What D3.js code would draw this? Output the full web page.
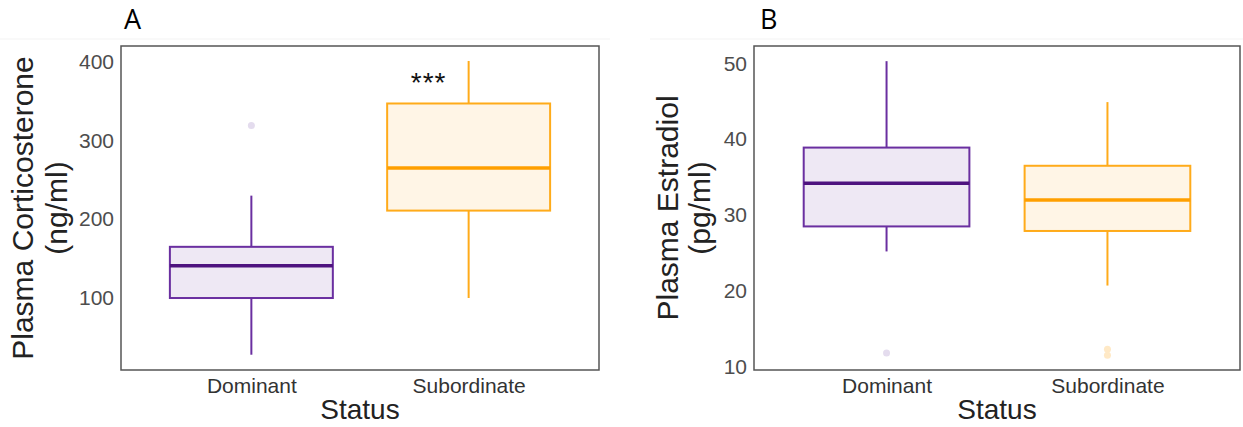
<!DOCTYPE html>
<html>
<head>
<meta charset="utf-8">
<script src="https://cdn.jsdelivr.net/npm/d3@7"></script>
<style>
  html, body { margin: 0; padding: 0; background: #fff; }
  svg { display: block; }
</style>
</head>
<body>
<svg id="chart" width="1243" height="427"></svg>
<script>
// ---- data ----
const categories = ["Dominant", "Subordinate"];
// [lowerWhisker, q1, median, q3, upperWhisker]
const corticoDominant = [28, 100, 141, 165, 230];
const corticoSubordinate = [100, 211, 265, 347, 401];
const corticoOutliersDominant = [319];
const corticoOutliersSubordinate = [];
const estradiolDominant = [25.2, 28.5, 34.2, 38.9, 50.3];
const estradiolSubordinate = [20.7, 27.9, 32.0, 36.5, 44.9];
const estradiolOutliersDominant = [11.8];
const estradiolOutliersSubordinate = [12.3, 11.5];
const corticoTicks = [100, 200, 300, 400];
const estradiolTicks = [10, 20, 30, 40, 50];
const corticoDomain = [8.6, 420];
const estradiolDomain = [9.56, 52.3];

const colors = {
  Dominant: { stroke: "#6a2fa0", median: "#4e137f", fill: "#eee8f4", pt: "#e4dcee" },
  Subordinate: { stroke: "#ffab1a", median: "#ff9f00", fill: "#fff5e6", pt: "#ffe9c6" }
};

const svg = d3.select("#chart");
const font = "'Liberation Sans', Arial, sans-serif";

function panel(opts) {
  const { left, right, top, bottom, stats, outliers, ticks, domain, letter, letterX,
          title1, title2, t1x, t2x, sig } = opts;
  const g = svg.append("g");
  // faint separator
  g.append("line").attr("x1", opts.sepX1).attr("x2", opts.sepX2)
    .attr("y1", 39).attr("y2", 39).attr("stroke", "#f3f3f3").attr("stroke-width", 1);

  const y = d3.scaleLinear().domain(domain).range([bottom, top]);
  const x = d3.scalePoint().domain(categories).range([left, right]).padding(0.6);
  const bw = x.step() * 0.75;

  // boxes
  categories.forEach((c, i) => {
    const s = stats[i];
    const col = colors[c];
    const cx = x(c);
    // whiskers
    g.append("line").attr("x1", cx).attr("x2", cx).attr("y1", y(s[0])).attr("y2", y(s[1]))
      .attr("stroke", col.stroke).attr("stroke-width", 2);
    g.append("line").attr("x1", cx).attr("x2", cx).attr("y1", y(s[3])).attr("y2", y(s[4]))
      .attr("stroke", col.stroke).attr("stroke-width", 2);
    // box
    g.append("rect").attr("x", cx - bw / 2).attr("y", y(s[3]))
      .attr("width", bw).attr("height", y(s[1]) - y(s[3]))
      .attr("fill", col.fill).attr("stroke", col.stroke).attr("stroke-width", 2);
    // median
    g.append("line").attr("x1", cx - bw / 2).attr("x2", cx + bw / 2)
      .attr("y1", y(s[2])).attr("y2", y(s[2]))
      .attr("stroke", col.median).attr("stroke-width", 3.5);
    // outliers
    outliers[i].forEach(v => {
      g.append("circle").attr("cx", cx).attr("cy", y(v)).attr("r", 3.5).attr("fill", col.pt);
    });
  });

  // border
  g.append("rect").attr("x", left).attr("y", top).attr("width", right - left)
    .attr("height", bottom - top).attr("fill", "none").attr("stroke", "#555").attr("stroke-width", 1.5);

  // y axis tick labels
  const yAxis = d3.axisLeft(y).tickValues(ticks).tickSize(0).tickPadding(7);
  const ya = g.append("g").attr("transform", `translate(${left},0)`).call(yAxis);
  ya.select(".domain").remove();
  ya.selectAll("text").attr("font-family", font).attr("font-size", 21).attr("fill", "#4d4d4d");

  // x axis labels
  const xAxis = d3.axisBottom(x).tickSize(0).tickPadding(8);
  const xa = g.append("g").attr("transform", `translate(0,${bottom})`).call(xAxis);
  xa.select(".domain").remove();
  xa.selectAll("text").attr("font-family", font).attr("font-size", 21).attr("fill", "#333");

  // x title
  g.append("text").attr("x", (left + right) / 2).attr("y", 419).attr("text-anchor", "middle")
    .attr("font-family", font).attr("font-size", 28).attr("fill", "#222").text("Status");

  // y titles
  const cy = (top + bottom) / 2;
  g.append("text").attr("transform", `translate(${t1x},${cy}) rotate(-90)`)
    .attr("text-anchor", "middle").attr("font-family", font).attr("font-size", 30)
    .attr("fill", "#222").text(title1);
  g.append("text").attr("transform", `translate(${t2x},${cy}) rotate(-90)`)
    .attr("text-anchor", "middle").attr("font-family", font).attr("font-size", 30)
    .attr("fill", "#222").text(title2);

  // panel letter
  g.append("text").attr("x", letterX).attr("y", 29).attr("font-family", "'Open Sans', sans-serif")
    .attr("font-size", 27).attr("fill", "#000").text(letter);

  if (sig) {
    g.append("text").attr("x", x(sig.cat) - 40).attr("y", y(sig.value)).attr("text-anchor", "middle")
      .attr("font-family", font).attr("font-size", 28).attr("letter-spacing", 1)
      .attr("fill", "#111").text(sig.text);
  }
}

panel({
  left: 121, right: 599, top: 46, bottom: 370,
  stats: [corticoDominant, corticoSubordinate],
  outliers: [corticoOutliersDominant, corticoOutliersSubordinate],
  ticks: corticoTicks, domain: corticoDomain,
  letter: "A", letterX: 124,
  title1: "Plasma Corticosterone", title2: "(ng/ml)", t1x: 33, t2x: 67,
  sepX1: 0, sepX2: 610,
  sig: { cat: "Subordinate", value: 361, text: "***" }
});

panel({
  left: 754, right: 1240, top: 46, bottom: 370,
  stats: [estradiolDominant, estradiolSubordinate],
  outliers: [estradiolOutliersDominant, estradiolOutliersSubordinate],
  ticks: estradiolTicks, domain: estradiolDomain,
  letter: "B", letterX: 760,
  title1: "Plasma Estradiol", title2: "(pg/ml)", t1x: 678, t2x: 710,
  sepX1: 650, sepX2: 1243,
  sig: null
});
</script>
</body>
</html>
